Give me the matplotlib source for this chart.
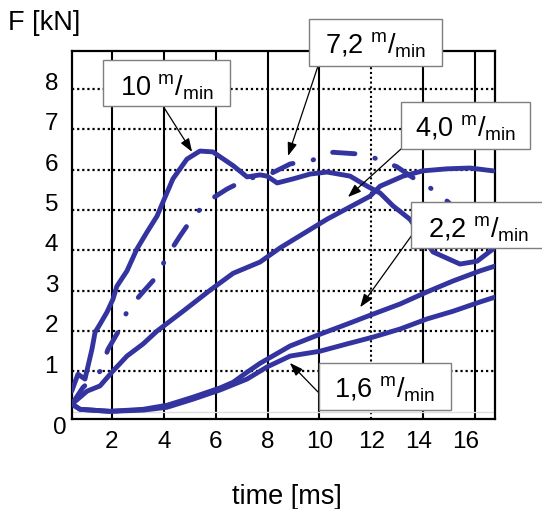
import matplotlib.pyplot as plt
import matplotlib.transforms as mtransforms
from matplotlib.patches import Rectangle

plt.rcParams['font.family'] = ['Liberation Sans', 'DejaVu Sans']
plt.rcParams['mathtext.fontset'] = 'custom'
plt.rcParams['mathtext.rm'] = 'Liberation Sans'

# force curves: time [ms] / force [kN]
t_10 = [0.45, 0.69, 0.96, 1.23, 1.35, 1.54, 1.81, 2.04, 2.19, 2.58, 2.96, 3.35, 3.74, 3.97,
        4.35, 4.89, 5.39, 5.89, 6.67, 7.21, 7.71, 7.98, 8.37, 8.98, 9.64, 10.29, 11.18,
        11.84, 12.34, 12.84, 13.49, 14.38, 15.42, 16.08, 16.69]
f_10 = [0.51, 0.93, 0.81, 1.55, 1.97, 2.17, 2.47, 2.79, 3.11, 3.49, 4.03, 4.45, 4.85, 5.20,
        5.77, 6.26, 6.46, 6.44, 6.10, 5.82, 5.87, 5.84, 5.67, 5.77, 5.89, 5.94, 5.84,
        5.59, 5.42, 5.10, 4.77, 3.96, 3.66, 3.73, 4.03]

t_72 = [0.46, 0.88, 1.54, 1.85, 2.23, 2.62, 3.20, 3.74, 4.12, 4.62, 5.13, 5.70, 6.44, 7.21,
        8.09, 8.87, 9.75, 10.52, 11.45, 12.22, 12.99, 13.79, 14.53, 15.04]
f_72 = [0.19, 0.60, 1.00, 1.55, 1.97, 2.54, 2.97, 3.36, 3.85, 4.35, 4.83, 5.22, 5.52, 5.77,
        5.89, 6.14, 6.24, 6.43, 6.39, 6.27, 6.07, 5.72, 5.45, 5.15]

t_40 = [0.46, 1.04, 1.54, 2.04, 2.58, 3.20, 3.74, 4.74, 5.78, 6.67, 7.71, 8.48, 10.29, 11.95,
        12.34, 13.23, 13.99, 14.92, 15.81, 16.69]
f_40 = [0.19, 0.51, 0.64, 1.01, 1.38, 1.68, 2.00, 2.49, 3.01, 3.43, 3.71, 4.06, 4.77, 5.34,
        5.59, 5.84, 5.97, 6.02, 6.04, 5.97]

t_22 = [0.46, 0.77, 1.92, 3.20, 4.12, 5.12, 6.17, 6.67, 7.21, 7.71, 8.87, 10.02, 11.06,
        12.07, 13.11, 14.15, 15.15, 16.19, 16.77]
f_22 = [0.19, 0.06, 0.01, 0.06, 0.16, 0.36, 0.59, 0.73, 0.98, 1.20, 1.63, 1.92, 2.17,
        2.42, 2.67, 2.97, 3.24, 3.49, 3.61]

t_16 = [0.46, 0.77, 1.92, 3.20, 4.12, 5.12, 6.17, 7.21, 7.98, 8.87, 10.02, 11.06, 12.07,
        13.11, 14.15, 15.15, 16.19, 16.77]
f_16 = [0.19, 0.06, 0.01, 0.04, 0.11, 0.31, 0.54, 0.81, 1.11, 1.38, 1.50, 1.68, 1.85,
        2.05, 2.30, 2.49, 2.72, 2.84]

speeds = ["10", "7,2", "4,0", "2,2", "1,6"]
# points the label arrows aim at (data coords)
arrow_tips = [(5.09, 6.44), (8.79, 6.34), (11.10, 5.32), (11.57, 2.59), (8.86, 1.21)]

x_ticks = [2, 4, 6, 8, 10, 12, 14, 16]
y_ticks = [0, 1, 2, 3, 4, 5, 6, 7, 8]

W, H = 542, 510
blue = '#3434a0'
lw_curve = 3.5

fig = plt.figure(figsize=(W / 100, H / 100), dpi=100)
ax = fig.add_axes([72 / W, 90 / H, 423 / W, 368 / H])

ax.plot(t_10, f_10, color=blue, lw=lw_curve, solid_capstyle='round', zorder=3)
ax.plot(t_72, f_72, color=blue, lw=lw_curve, linestyle=(0, (4.6, 4.2, 0.1, 4.2)),
        dash_capstyle='round', zorder=3)
ax.plot(t_40, f_40, color=blue, lw=lw_curve, solid_capstyle='round', zorder=3)
ax.plot(t_22, f_22, color=blue, lw=lw_curve, solid_capstyle='round', zorder=3)
ax.plot(t_16, f_16, color=blue, lw=lw_curve, solid_capstyle='round', zorder=3)

ax.set_xlim(0.46, 16.77)
ax.set_ylim(-0.18, 8.94)
ax.set_xticks(x_ticks)
ax.set_yticks(y_ticks)
ax.tick_params(length=0, labelsize=17.5)
ax.tick_params(axis='x', pad=8)
ax.tick_params(axis='y', pad=10)

ax.set_axisbelow(True)
ax.grid(axis='x', color='black', lw=1.5, linestyle='-')
ax.grid(axis='y', color='black', lw=1.6, linestyle=(0, (1, 1.3)))
ax.xaxis.get_gridlines()[x_ticks.index(12)].set_linestyle((0, (1, 1.3)))
ax.yaxis.get_gridlines()[0].set_linestyle('-')
ax.yaxis.get_gridlines()[0].set_color('#dddddd')
ax.yaxis.get_gridlines()[0].set_linewidth(1.0)
for s in ax.spines.values():
    s.set_linewidth(1.6)
    s.set_color('black')

# nudge tick labels like in the original figure
def shift(lbl, dx, dy):
    off = mtransforms.ScaledTranslation(dx / 72, dy / 72, fig.dpi_scale_trans)
    lbl.set_transform(lbl.get_transform() + off)

for lbl in ax.get_yticklabels():
    if lbl.get_text() == '0':
        shift(lbl, 6, -9)
    else:
        shift(lbl, 0, 6)
xl = ax.get_xticklabels()
shift(xl[-2], -3.5, 0)
shift(xl[-1], -6.5, 0)

fig.text(8 / W, 1 - 23 / H, "F [kN]", fontsize=19.5, ha='left', va='center')
fig.text(287 / W, 1 - 497 / H, "time [ms]", fontsize=19.5, ha='center', va='center')

# label boxes (pixel layout: left, top, right, bottom) and arrow start points
boxes = [(103, 61, 230, 107), (309, 20, 442, 67), (401, 103, 530, 150),
         (411, 203, 547, 249), (319, 364, 451, 411)]
arrow_starts = [(163, 107), (318, 67), (401, 150), (412, 236), (318, 393)]

for sp, (l, t, r, b), (sx, sy), tip in zip(speeds, boxes, arrow_starts, arrow_tips):
    ax.annotate("", xy=tip, xycoords='data',
                xytext=(sx / W, 1 - sy / H), textcoords='figure fraction',
                arrowprops=dict(arrowstyle='-|>,head_length=0.5,head_width=0.18',
                                color='black', lw=0.9, mutation_scale=16,
                                shrinkA=0, shrinkB=0),
                annotation_clip=False, zorder=4)
    rect = Rectangle((l / W, 1 - b / H), (r - l) / W, (b - t) / H,
                     transform=fig.transFigure, facecolor='white',
                     edgecolor='#7f7f7f', lw=1.0, zorder=5)
    fig.add_artist(rect)
    label = sp + r" $^{\mathregular{m}}$/$_{\mathregular{min}}$"
    fig.text((l + r) / 2 / W, 1 - (t + 34) / H, label, fontsize=19.5,
             ha='center', va='baseline', zorder=6)

plt.savefig("out.png", dpi=100)
